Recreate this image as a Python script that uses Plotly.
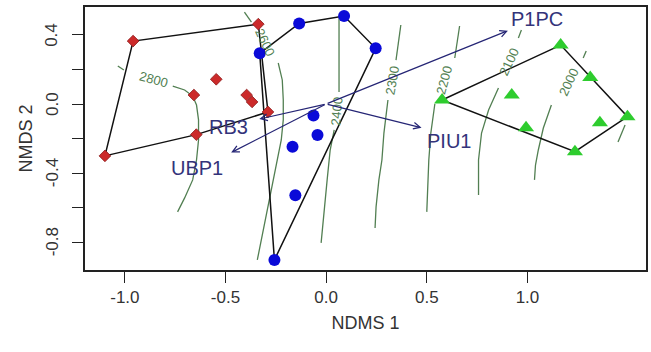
import plotly.graph_objects as go

# ---------------- data ----------------
red_x = [-0.959, -0.337, -0.546, -0.657, -0.395, -0.368, -0.289, -0.645, -1.099]
red_y = [0.364, 0.462, 0.143, 0.052, 0.052, 0.012, -0.046, -0.177, -0.300]

blue_x = [-0.134, 0.089, 0.246, -0.330, -0.063, -0.043, -0.167, -0.153, -0.257]
blue_y = [0.466, 0.509, 0.322, 0.293, -0.067, -0.179, -0.247, -0.528, -0.902]

green_x = [1.165, 0.576, 0.922, 1.312, 1.497, 1.360, 0.993, 1.236]
green_y = [0.341, 0.023, 0.052, 0.154, -0.073, -0.108, -0.137, -0.276]

vec_names = ["P1PC", "PIU1", "RB3", "UBP1"]
vec_x = [0.903, 0.474, -0.332, -0.472]
vec_y = [0.424, -0.137, -0.087, -0.281]
vec_label_x = [1.045, 0.609, -0.485, -0.642]
vec_label_y = [0.491, -0.214, -0.133, -0.372]

contour_levels = ["2800", "2600", "2400", "2300", "2200", "2100", "2000", ""]
contour_x = [
    [-1.035, -1.005, None, -0.762, -0.703, -0.663, -0.644, -0.634, -0.634, -0.644, -0.663, -0.703, -0.738],
    [-0.406, -0.371, None, -0.238, -0.218, -0.213, -0.213, -0.223, -0.243, -0.262, -0.282, -0.307, -0.342],
    [0.064, 0.064, 0.064, None, 0.040, 0.020, 0.005, -0.010, -0.025],
    [0.371, 0.347, None, 0.307, 0.287, 0.277, 0.262, 0.248, 0.243],
    [0.663, 0.639, None, 0.540, 0.520, 0.510, 0.505, 0.500],
    [0.970, 0.955, None, 0.856, 0.807, 0.772, 0.757, 0.757, 0.757],
    [1.292, 1.277, None, 1.119, 1.079, 1.054, 1.040, 1.035],
    [1.485, 1.450],
]
contour_y = [
    [0.220, 0.197, None, 0.104, 0.081, 0.046, -0.006, -0.092, -0.208, -0.324, -0.439, -0.543, -0.624],
    [0.532, 0.474, None, 0.237, 0.139, 0.023, -0.092, -0.208, -0.324, -0.439, -0.555, -0.699, -0.902],
    [0.497, 0.312, 0.069, None, -0.150, -0.266, -0.439, -0.613, -0.803],
    [0.457, 0.254, None, 0.023, -0.168, -0.324, -0.439, -0.595, -0.717],
    [0.451, 0.266, None, 0.000, -0.168, -0.324, -0.468, -0.624],
    [0.428, 0.382, None, 0.092, -0.035, -0.168, -0.324, -0.439, -0.526],
    [0.306, 0.266, None, -0.006, -0.139, -0.266, -0.353, -0.439],
    [-0.121, -0.220],
]
contour_label_x = [-0.856, -0.302, 0.054, 0.332, 0.589, 0.911, 1.203]
contour_label_y = [0.139, 0.358, -0.045, 0.139, 0.139, 0.243, 0.127]
contour_label_angle = [15, 65, -85, -80, -75, -65, -65]

x_ticks = [-1.0, -0.5, 0.0, 0.5, 1.0]
x_ticklabels = ["-1.0", "-0.5", "0.0", "0.5", "1.0"]
y_ticks = [-0.8, -0.6, -0.4, -0.2, 0.0, 0.2, 0.4]
y_ticklabels = ["-0.8", "", "-0.4", "", "0.0", "", "0.4"]


def hull(xs, ys):
    pts = sorted(zip(xs, ys))

    def cross(o, a, b):
        return (a[0] - o[0]) * (b[1] - o[1]) - (a[1] - o[1]) * (b[0] - o[0])

    lower, upper = [], []
    for p in pts:
        while len(lower) >= 2 and cross(lower[-2], lower[-1], p) <= 0:
            lower.pop()
        lower.append(p)
    for p in reversed(pts):
        while len(upper) >= 2 and cross(upper[-2], upper[-1], p) <= 0:
            upper.pop()
        upper.append(p)
    h = lower[:-1] + upper[:-1]
    h.append(h[0])
    return [p[0] for p in h], [p[1] for p in h]


FONT = "Liberation Sans, Arial"
TXT = "#333333"
fig = go.Figure()

CONT = "#527f52"
for cx, cy in zip(contour_x, contour_y):
    fig.add_trace(go.Scatter(x=cx, y=cy, mode="lines", line=dict(color=CONT, width=1.3),
                             hoverinfo="skip", showlegend=False))

for xs, ys in [(red_x, red_y), (blue_x, blue_y), (green_x, green_y)]:
    hx, hy = hull(xs, ys)
    fig.add_trace(go.Scatter(x=hx, y=hy, mode="lines", line=dict(color="#111111", width=1.5),
                             hoverinfo="skip", showlegend=False))

fig.add_trace(go.Scatter(x=red_x, y=red_y, mode="markers", showlegend=False,
                         marker=dict(symbol="diamond", size=9, color="#cc2a2a",
                                     line=dict(color="#8a1a1a", width=0.8))))
fig.add_trace(go.Scatter(x=blue_x, y=blue_y, mode="markers", showlegend=False,
                         marker=dict(symbol="circle", size=12, color="#0a0ad8",
                                     line=dict(width=0))))
fig.add_trace(go.Scatter(x=green_x, y=green_y, mode="markers", showlegend=False,
                         marker=dict(symbol="triangle-up", size=14, color="#2ecc2e",
                                     line=dict(width=0))))

annotations = []
for lx, ly, txt, ang in zip(contour_label_x, contour_label_y, contour_levels, contour_label_angle):
    annotations.append(dict(x=lx, y=ly, xref="x", yref="y", text=txt, showarrow=False,
                            textangle=ang, font=dict(family=FONT, size=13, color=CONT)))

for vx, vy in zip(vec_x, vec_y):
    annotations.append(dict(x=vx, y=vy, ax=0, ay=0, xref="x", yref="y", axref="x", ayref="y",
                            text="", showarrow=True, arrowhead=5, arrowsize=1.1, arrowwidth=1.2,
                            arrowcolor="#252575"))
for lx, ly, name in zip(vec_label_x, vec_label_y, vec_names):
    annotations.append(dict(x=lx, y=ly, xref="x", yref="y", text=name, showarrow=False,
                            font=dict(family=FONT, size=20, color="#33337a")))

# y tick labels (rotated, R style) and y title
for yv, yt in zip(y_ticks, y_ticklabels):
    if yt:
        annotations.append(dict(x=0, y=yv, xref="paper", yref="y", text=yt, showarrow=False,
                                textangle=-90, xanchor="center", yanchor="middle", xshift=-33,
                                font=dict(family=FONT, size=17, color=TXT)))
annotations.append(dict(x=0, y=0.5, xref="paper", yref="paper", text="NMDS 2", showarrow=False,
                        textangle=-90, xanchor="center", yanchor="middle", xshift=-60,
                        font=dict(family=FONT, size=18, color=TXT)))

axis_common = dict(showline=True, linecolor="#222222", linewidth=1.5, mirror=True,
                   ticks="outside", ticklen=11, tickwidth=1.3, tickcolor="#222222",
                   showgrid=False, zeroline=False,
                   tickfont=dict(family=FONT, size=17, color=TXT))

fig.update_layout(
    width=651, height=352,
    margin=dict(l=85, r=3, t=7, b=82),
    paper_bgcolor="white", plot_bgcolor="white",
    annotations=annotations,
    xaxis=dict(range=[-1.198, 1.589], tickvals=x_ticks, ticktext=x_ticklabels,
               title=dict(text="NDMS 1", standoff=10,
                          font=dict(family=FONT, size=18, color=TXT)),
               **axis_common),
    yaxis=dict(range=[-0.960, 0.561], tickvals=y_ticks, showticklabels=False,
               **axis_common),
)

fig.write_html("out.html")
